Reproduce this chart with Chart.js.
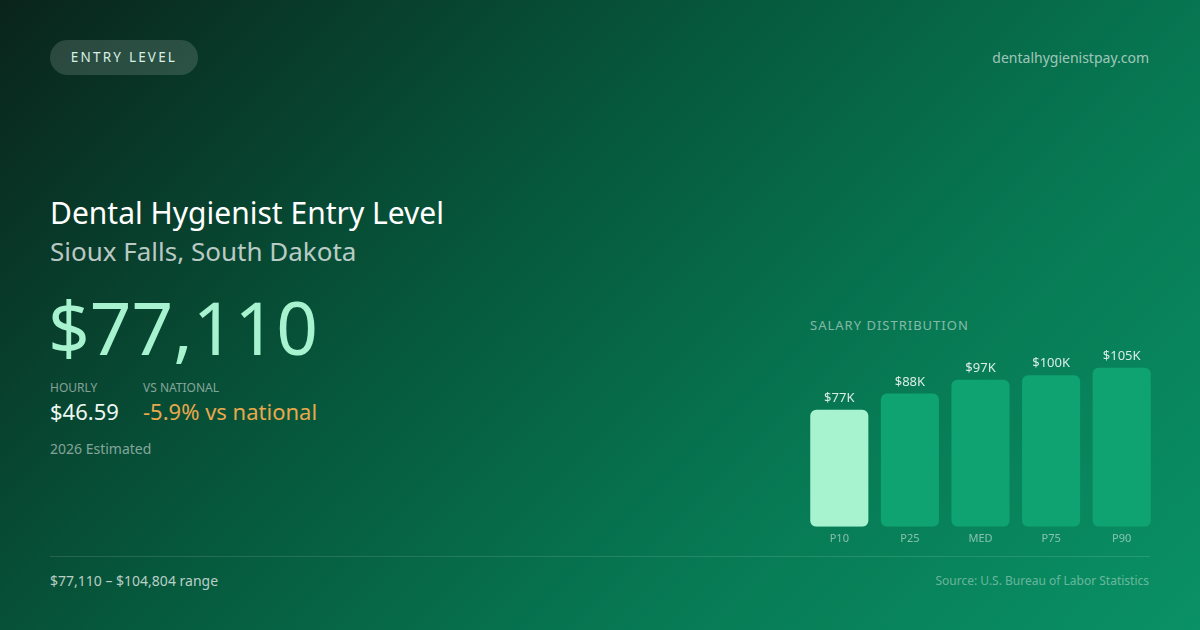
<!DOCTYPE html>
<html>
<head>
<meta charset="utf-8">
<script src="https://cdn.jsdelivr.net/npm/chart.js@4"></script>
<style>
  html, body { margin: 0; padding: 0; }
  body {
    width: 1200px; height: 630px; overflow: hidden; position: relative;
    font-family: "Noto Sans", "Open Sans", sans-serif;
    background: linear-gradient(135deg, #0a241b 0%, #06583c 40%, #077a54 70%, #0a9165 100%);
    color: #fff;
  }
  .badge {
    position: absolute; left: 50px; top: 40px; width: 148px; height: 35px;
    border-radius: 18px; background: rgba(255,255,255,0.14);
    font-size: 13.5px; letter-spacing: 2.2px; line-height: 35px; text-align: center;
    color: #d8efe4;
  }
  .site { position: absolute; right: 51px; top: 48px; font-size: 14px; color: rgba(255,255,255,0.62); }
  .title { position: absolute; left: 50px; top: 192px; font-size: 30px; color: #fff; }
  .loc { position: absolute; left: 50px; top: 233px; font-size: 26px; color: rgba(255,255,255,0.72); }
  .big { position: absolute; left: 48px; top: 282px; font-size: 73px; color: #a7f3d0; line-height: 90px; }
  .lbl { position: absolute; top: 379px; font-size: 12px; color: rgba(255,255,255,0.5); }
  .val { position: absolute; top: 396px; font-size: 22px; }
  .est { position: absolute; left: 50px; top: 439px; font-size: 14px; color: rgba(255,255,255,0.5); }
  .rule { position: absolute; left: 50px; top: 556px; width: 1100px; height: 1px; background: rgba(255,255,255,0.12); }
  .range { position: absolute; left: 50px; top: 571px; font-size: 14px; color: rgba(255,255,255,0.72); }
  .src { position: absolute; right: 51px; top: 572px; font-size: 12px; color: rgba(255,255,255,0.4); }
  .ct { position: absolute; left: 810px; top: 316px; font-size: 13px; letter-spacing: 1px; color: rgba(255,255,255,0.5); }
  #wrap { position: absolute; left: 804px; top: 340px; width: 353px; height: 210px; }
</style>
</head>
<body>
<div class="badge">ENTRY LEVEL</div>
<div class="site">dentalhygienistpay.com</div>
<div class="title">Dental Hygienist Entry Level</div>
<div class="loc">Sioux Falls, South Dakota</div>
<div class="big">$77,110</div>
<div class="lbl" style="left:50px">HOURLY</div>
<div class="lbl" style="left:143px">VS NATIONAL</div>
<div class="val" style="left:50px;color:#eef8f3">$46.59</div>
<div class="val" style="left:143px;color:#e9a84c">-5.9% vs national</div>
<div class="est">2026 Estimated</div>
<div class="ct">SALARY DISTRIBUTION</div>
<div id="wrap"><canvas id="salaryChart"></canvas></div>
<div class="rule"></div>
<div class="range">$77,110 – $104,804 range</div>
<div class="src">Source: U.S. Bureau of Labor Statistics</div>

<script>
// salary percentiles
const labels = ['P10', 'P25', 'MED', 'P75', 'P90'];
const salaries = [77110, 87700, 96900, 99800, 104804];
const valueLabels = ['$77K', '$88K', '$97K', '$100K', '$105K'];
const barColors = ['#a7f3d0', '#0fa372', '#0fa372', '#0fa372', '#0fa372'];

// draw the $ labels over each bar
const topLabels = {
    id: 'topLabels',
    afterDatasetsDraw(chart) {
        const ctx = chart.ctx;
        const meta = chart.getDatasetMeta(0);
        ctx.save();
        ctx.font = '13px "Noto Sans", sans-serif';
        ctx.fillStyle = 'rgba(255,255,255,0.85)';
        ctx.textAlign = 'center';
        ctx.textBaseline = 'bottom';
        meta.data.forEach(function (bar, i) {
            ctx.fillText(valueLabels[i], bar.x, bar.y - 5);
        });
        ctx.restore();
    }
};

const data = {
    labels: labels,
    datasets: [{
        data: salaries,
        backgroundColor: barColors,
        borderRadius: 6,
        borderSkipped: false,
        categoryPercentage: 1,
        barPercentage: 0.823
    }]
};

const config = {
    type: 'bar',
    data,
    options: {
        responsive: true,
        maintainAspectRatio: false,
        animation: false,
        layout: { padding: 0 },
        plugins: { legend: { display: false }, tooltip: { enabled: false } },
        scales: {
            x: {
                grid: { display: false, drawTicks: false },
                border: { display: false },
                ticks: { color: 'rgba(255,255,255,0.5)', font: { size: 11, family: 'Noto Sans' }, padding: 5 }
            },
            y: {
                display: false,
                min: 0,
                max: 123000
            }
        }
    },
    plugins: [topLabels]
};

var salaryChart = new Chart(
document.getElementById('salaryChart'),
config
);
</script>
</body>
</html>
